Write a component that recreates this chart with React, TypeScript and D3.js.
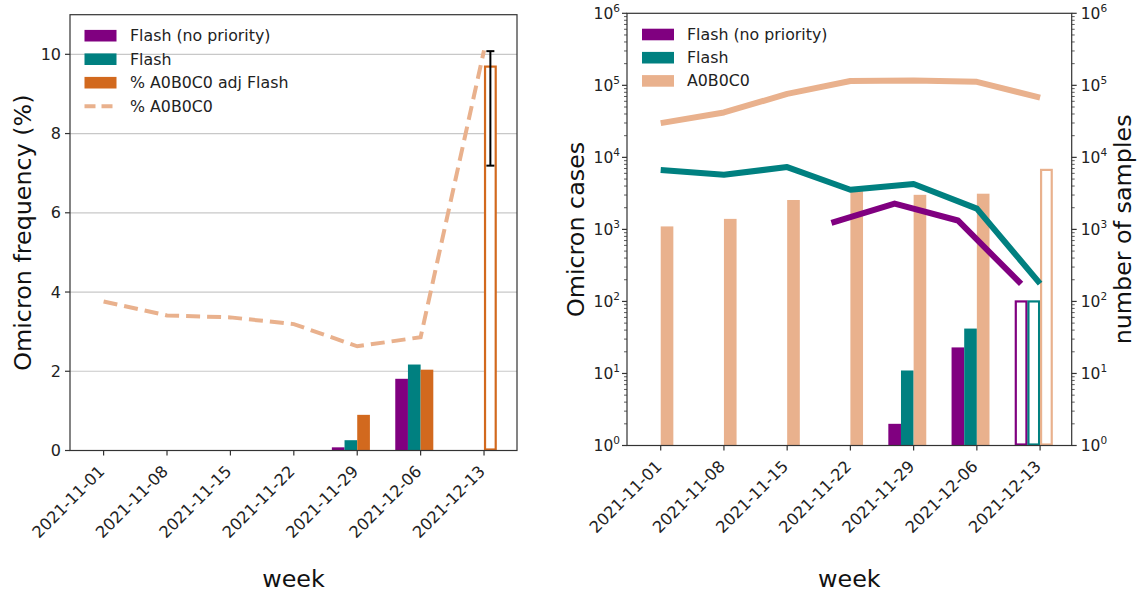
import React from 'react';
import * as d3 from 'd3';

// ---------- data ----------
const weeks = ['2021-11-01', '2021-11-08', '2021-11-15', '2021-11-22', '2021-11-29', '2021-12-06', '2021-12-13'];

// left panel: Omicron frequency (%)
const freqFlashNoPrio: (number | null)[] = [null, null, null, null, 0.08, 1.81, null];
const freqFlash: (number | null)[] = [null, null, null, null, 0.26, 2.17, null];
const freqAdjFlash: (number | null)[] = [null, null, null, null, 0.9, 2.04, 9.69];
const freqAdjFlashEstimate: boolean[] = [false, false, false, false, false, false, true];
const freqAdjErrLow: (number | null)[] = [null, null, null, null, null, null, 7.19];
const freqAdjErrHigh: (number | null)[] = [null, null, null, null, null, null, 10.08];
const freqA0B0C0: number[] = [3.76, 3.41, 3.36, 3.19, 2.63, 2.86, 10.1];
const leftTicks = [0, 2, 4, 6, 8, 10];

// right panel: Omicron cases (lines) and number of samples (bars)
const casesFlashNoPrio: (number | null)[] = [null, null, null, 1230, 2280, 1330, 175];
const casesFlash: number[] = [6670, 5740, 7330, 3550, 4270, 1940, 177];
const casesA0B0C0: number[] = [29900, 42000, 76200, 115000, 117000, 112000, 67700];
const samplesFlashNoPrio: (number | null)[] = [null, null, null, null, 2, 23, 100];
const samplesFlash: (number | null)[] = [null, null, null, null, 11, 42, 100];
const samplesA0B0C0: number[] = [1100, 1400, 2560, 3400, 3020, 3130, 6700];
const samplesEstimate: boolean[] = [false, false, false, false, false, false, true];
const logExponents = [0, 1, 2, 3, 4, 5, 6];

const PURPLE = '#800080';
const TEAL = '#008080';
const ORANGE = '#D2691E';
const PEACH = '#E9B18D';
const FONT = '"DejaVu Sans", Verdana, sans-serif';
const AX = '#333';
const TXT = '#222';

export default function App() {
  // ----- left scales -----
  const xL = d3.scaleLinear().domain([-0.53, 6.52]).range([70, 517]);
  const yL = d3.scaleLinear().domain([0, 11]).range([450.5, 14.7]);
  const bw = 0.2;
  const wL = xL(bw) - xL(0);

  // ----- right scales -----
  const xR = d3.scaleLinear().domain([-0.533, 6.5]).range([627, 1071.7]);
  const yR = d3.scaleLog().domain([1, 1e6]).range([445.5, 13.3]);
  const wR = xR(bw) - xR(0);

  const dashLine = d3.line<number>().x((_, i) => xL(i)).y((d) => yL(d));
  const lineR = (offset: number) =>
    d3
      .line<number | null>()
      .defined((d) => d != null)
      .x((_, i) => xR(i + offset))
      .y((d) => yR(d as number));

  const minorTicks: number[] = [];
  for (let e = 0; e < 6; e++) for (let k = 2; k <= 9; k++) minorTicks.push(k * Math.pow(10, e));

  const leftBars: { x: number; v: number; c: string; outline: boolean }[] = [];
  weeks.forEach((_, i) => {
    if (freqFlashNoPrio[i] != null) leftBars.push({ x: i - 0.4, v: freqFlashNoPrio[i] as number, c: PURPLE, outline: false });
    if (freqFlash[i] != null) leftBars.push({ x: i - 0.2, v: freqFlash[i] as number, c: TEAL, outline: false });
    if (freqAdjFlash[i] != null) leftBars.push({ x: i, v: freqAdjFlash[i] as number, c: ORANGE, outline: freqAdjFlashEstimate[i] });
  });

  const rightBars: { x: number; v: number; c: string; outline: boolean }[] = [];
  weeks.forEach((_, i) => {
    if (samplesFlashNoPrio[i] != null) rightBars.push({ x: i - 0.4, v: samplesFlashNoPrio[i] as number, c: PURPLE, outline: samplesEstimate[i] });
    if (samplesFlash[i] != null) rightBars.push({ x: i - 0.2, v: samplesFlash[i] as number, c: TEAL, outline: samplesEstimate[i] });
    rightBars.push({ x: i, v: samplesA0B0C0[i], c: PEACH, outline: samplesEstimate[i] });
  });

  const leftLegend = [
    { label: 'Flash (no priority)', c: PURPLE, dash: false },
    { label: 'Flash', c: TEAL, dash: false },
    { label: '% A0B0C0 adj Flash', c: ORANGE, dash: false },
    { label: '% A0B0C0', c: PEACH, dash: true },
  ];
  const rightLegend = [
    { label: 'Flash (no priority)', c: PURPLE },
    { label: 'Flash', c: TEAL },
    { label: 'A0B0C0', c: PEACH },
  ];

  const sup = (e: number, x: number, y: number, anchor: 'start' | 'end', key: string) => (
    <text key={key} x={x} y={y + 5.5} fontSize={15.5} textAnchor={anchor} fill={TXT}>
      10
      <tspan fontSize={10.5} dy={-7}>{e}</tspan>
    </text>
  );

  const tickLabel = (x: number, y: number, w: string) => (
    <text transform={`translate(${x + 2},${y + 22}) rotate(-45)`} fontSize={16.2} textAnchor="end" fill={TXT}>
      {w}
    </text>
  );

  return (
    <svg width={1137} height={594} style={{ position: 'absolute', left: 0, top: 0, background: '#fff' }} fontFamily={FONT}>
      {/* ================= LEFT PANEL ================= */}
      <g>
        {leftTicks.map((t) => (
          <line key={'g' + t} x1={xL.range()[0]} x2={xL.range()[1]} y1={yL(t)} y2={yL(t)} stroke="#c8c8c8" strokeWidth={1.2} />
        ))}
        {leftBars.map((b, i) =>
          b.outline ? (
            <rect key={'lb' + i} x={xL(b.x) + 1} y={yL(b.v)} width={wL - 2} height={yL(0) - yL(b.v) - 1} fill="#fff" stroke={b.c} strokeWidth={2.2} />
          ) : (
            <rect key={'lb' + i} x={xL(b.x)} y={yL(b.v)} width={wL} height={yL(0) - yL(b.v)} fill={b.c} />
          )
        )}
        <path d={dashLine(freqA0B0C0) || ''} fill="none" stroke={PEACH} strokeWidth={4} strokeDasharray="14,7" />
        {weeks.map((_, i) =>
          freqAdjErrLow[i] != null ? (
            <g key={'eb' + i} stroke="#000" strokeWidth={2}>
              <line x1={xL(i + 0.1)} x2={xL(i + 0.1)} y1={yL(freqAdjErrLow[i] as number)} y2={yL(freqAdjErrHigh[i] as number)} />
              <line x1={xL(i + 0.1) - 4} x2={xL(i + 0.1) + 4} y1={yL(freqAdjErrLow[i] as number)} y2={yL(freqAdjErrLow[i] as number)} />
              <line x1={xL(i + 0.1) - 4} x2={xL(i + 0.1) + 4} y1={yL(freqAdjErrHigh[i] as number)} y2={yL(freqAdjErrHigh[i] as number)} />
            </g>
          ) : null
        )}
        <rect x={xL.range()[0]} y={yL.range()[1]} width={xL.range()[1] - xL.range()[0]} height={yL.range()[0] - yL.range()[1]} fill="none" stroke={AX} strokeWidth={1.2} />
        {leftTicks.map((t) => (
          <g key={'yt' + t}>
            <line x1={xL.range()[0] - 5} x2={xL.range()[0]} y1={yL(t)} y2={yL(t)} stroke={AX} strokeWidth={1.2} />
            <text x={xL.range()[0] - 9} y={yL(t)} fontSize={16} textAnchor="end" dominantBaseline="central" fill={TXT}>
              {t}
            </text>
          </g>
        ))}
        {weeks.map((w, i) => (
          <g key={'xt' + w}>
            <line x1={xL(i)} x2={xL(i)} y1={yL(0)} y2={yL(0) + 5} stroke={AX} strokeWidth={1.2} />
            {tickLabel(xL(i), yL(0), w)}
          </g>
        ))}
        <text transform={`translate(23,${(yL.range()[0] + yL.range()[1]) / 2}) rotate(-90)`} fontSize={23.8} textAnchor="middle" dominantBaseline="central" fill="#111">
          Omicron frequency (%)
        </text>
        <text x={(xL.range()[0] + xL.range()[1]) / 2} y={587} fontSize={23.8} textAnchor="middle" fill="#111">
          week
        </text>
        {leftLegend.map((l, i) => (
          <g key={'ll' + i} transform={`translate(84.5,${35.7 + i * 23.5})`}>
            {l.dash ? (
              <line x1={0} x2={32} y1={0} y2={0} stroke={l.c} strokeWidth={4} strokeDasharray="11,6" />
            ) : (
              <rect x={0} y={-5.8} width={32} height={11.6} fill={l.c} />
            )}
            <text x={45.5} y={0} fontSize={15.8} dominantBaseline="central" fill={TXT}>
              {l.label}
            </text>
          </g>
        ))}
      </g>

      {/* ================= RIGHT PANEL ================= */}
      <g>
        {rightBars.map((b, i) =>
          b.outline ? (
            <rect key={'rb' + i} x={xR(b.x) + 1} y={yR(b.v)} width={wR - 2} height={yR(1) - yR(b.v) - 1} fill="#fff" fillOpacity={0} stroke={b.c} strokeWidth={2.2} />
          ) : (
            <rect key={'rb' + i} x={xR(b.x)} y={yR(b.v)} width={wR} height={yR(1) - yR(b.v)} fill={b.c} />
          )
        )}
        <path d={lineR(0)(casesA0B0C0) || ''} fill="none" stroke={PEACH} strokeWidth={6} strokeLinejoin="round" />
        <path d={lineR(0)(casesFlash) || ''} fill="none" stroke={TEAL} strokeWidth={6} strokeLinejoin="round" />
        <path d={lineR(-0.3)(casesFlashNoPrio) || ''} fill="none" stroke={PURPLE} strokeWidth={6} strokeLinejoin="round" />

        <rect x={xR.range()[0]} y={yR.range()[1]} width={xR.range()[1] - xR.range()[0]} height={yR.range()[0] - yR.range()[1]} fill="none" stroke={AX} strokeWidth={1.2} />
        {minorTicks.map((t) => (
          <g key={'mt' + t} stroke={AX} strokeWidth={0.8}>
            <line x1={xR.range()[0] - 3} x2={xR.range()[0]} y1={yR(t)} y2={yR(t)} />
            <line x1={xR.range()[1]} x2={xR.range()[1] + 3} y1={yR(t)} y2={yR(t)} />
          </g>
        ))}
        {logExponents.map((e) => (
          <g key={'le' + e}>
            <line x1={xR.range()[0] - 5} x2={xR.range()[0]} y1={yR(Math.pow(10, e))} y2={yR(Math.pow(10, e))} stroke={AX} strokeWidth={1.2} />
            <line x1={xR.range()[1]} x2={xR.range()[1] + 5} y1={yR(Math.pow(10, e))} y2={yR(Math.pow(10, e))} stroke={AX} strokeWidth={1.2} />
            {sup(e, xR.range()[0] - 7, yR(Math.pow(10, e)), 'end', 'ls' + e)}
            {sup(e, xR.range()[1] + 9, yR(Math.pow(10, e)), 'start', 'rs' + e)}
          </g>
        ))}
        {weeks.map((w, i) => (
          <g key={'xr' + w}>
            <line x1={xR(i)} x2={xR(i)} y1={yR(1)} y2={yR(1) + 5} stroke={AX} strokeWidth={1.2} />
            {tickLabel(xR(i), yR(1), w)}
          </g>
        ))}
        <text transform={`translate(576,${(yR.range()[0] + yR.range()[1]) / 2}) rotate(-90)`} fontSize={23.8} textAnchor="middle" dominantBaseline="central" fill="#111">
          Omicron cases
        </text>
        <text transform={`translate(1123,${(yR.range()[0] + yR.range()[1]) / 2}) rotate(-90)`} fontSize={23.8} textAnchor="middle" dominantBaseline="central" fill="#111">
          number of samples
        </text>
        <text x={(xR.range()[0] + xR.range()[1]) / 2} y={587} fontSize={23.8} textAnchor="middle" fill="#111">
          week
        </text>
        {rightLegend.map((l, i) => (
          <g key={'rl' + i} transform={`translate(642,${34.5 + i * 23.2})`}>
            <rect x={0} y={-5.8} width={32} height={11.6} fill={l.c} />
            <text x={45} y={0} fontSize={15.8} dominantBaseline="central" fill={TXT}>
              {l.label}
            </text>
          </g>
        ))}
      </g>
    </svg>
  );
}
